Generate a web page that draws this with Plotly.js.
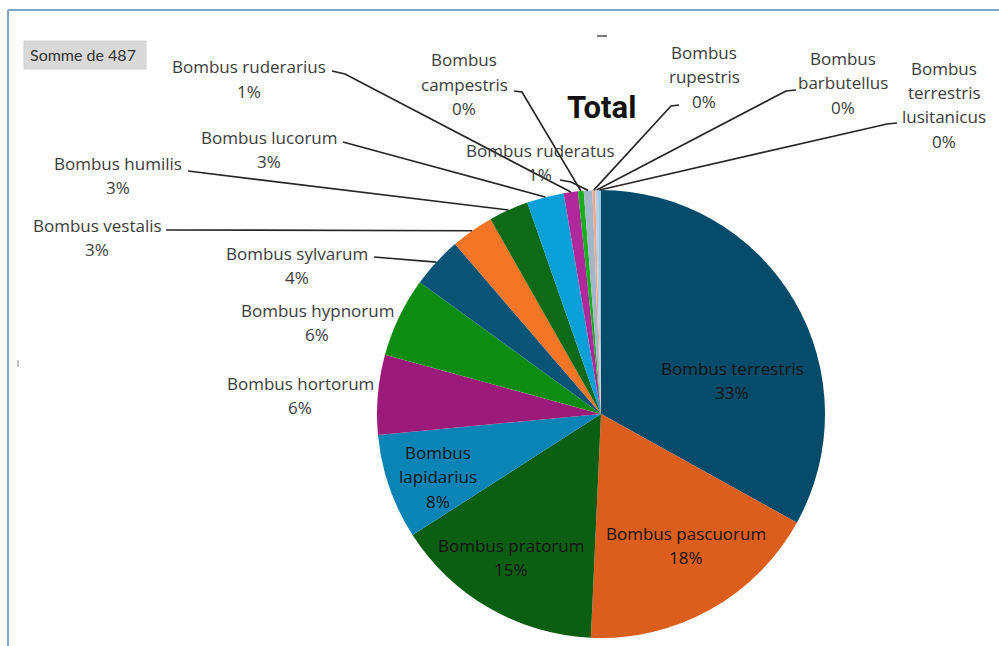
<!DOCTYPE html>
<html>
<head>
<meta charset="utf-8">
<script src="https://cdn.plot.ly/plotly-3.0.1.min.js"></script>
<style>html,body{margin:0;padding:0;background:#fff;}#chart{width:999px;height:646px;}</style>
</head>
<body>
<div id="chart"></div>
<script>
// ---- data ----
const categories = [
  "Bombus terrestris", "Bombus pascuorum", "Bombus pratorum", "Bombus lapidarius",
  "Bombus hortorum", "Bombus hypnorum", "Bombus sylvarum", "Bombus vestalis",
  "Bombus humilis", "Bombus lucorum", "Bombus ruderarius", "Bombus campestris",
  "Bombus ruderatus", "Bombus rupestris", "Bombus barbutellus", "Bombus terrestris lusitanicus"
];
const counts = [161, 86, 74, 37, 28, 28, 18, 15, 14, 13, 5, 2, 3, 1, 1, 1];
const sliceColors = [
  "#064B69", "#DC5E1D", "#0B5E12", "#0A84B5", "#9C1B7A", "#0E8C12",
  "#0A5478", "#F47526", "#0E6A17", "#0BA0D8", "#B0299C", "#1AAE1E",
  "#A2B6C9", "#F2A88C", "#B9CFE0", "#93C6E2"
];
const chartTitle = "Total";
const fieldButton = "Somme de 487";

// ---- layout (pixel positions of label blocks) ----
const W = 999, H = 646;
const CX = 601, CY = 414, R = 224;
const labelLayout = [
  {x: 732, y: 368, split: false, inside: true},
  {x: 686, y: 533, split: false, inside: true},
  {x: 511, y: 545, split: false, inside: true},
  {x: 438, y: 452, split: true,  inside: true},
  {x: 300, y: 383, split: false},
  {x: 317, y: 310, split: false},
  {x: 297, y: 253, split: false, lead: [374, 257]},
  {x: 97,  y: 225, split: false, lead: [166, 230]},
  {x: 118, y: 163, split: false, lead: [188, 171]},
  {x: 269, y: 137, split: false, lead: [343, 142]},
  {x: 249, y: 67,  split: false, lead: [332, 71], knee: [345, 74]},
  {x: 464, y: 60,  split: true,  lead: [514, 91], knee: [522, 92]},
  {x: 540, y: 150, split: false, lead: [560, 180], knee: [571, 182]},
  {x: 704, y: 52,  split: true,  lead: [679, 105], knee: [671, 106]},
  {x: 843, y: 58,  split: true,  lead: [796, 90], knee: [786, 91]},
  {x: 944, y: 68,  split: true,  lead: [897, 123], knee: [887, 124]}
];
const LINE_DY = 24.5;
const LABEL_FONT = "'Open Sans', Lato, sans-serif";

const px = v => v / W;
const py = v => 1 - v / H;

const total = counts.reduce((a, b) => a + b, 0);
const annotations = [];
const shapes = [];

let cum = 0;
counts.forEach((c, i) => {
  const mid = (cum + c / 2) / total * 2 * Math.PI;
  cum += c;
  const L = labelLayout[i];
  const pct = Math.round(c / total * 100) + "%";
  const nameLines = L.split ? categories[i].split(" ") : [categories[i]];
  const lines = nameLines.concat([pct]);
  lines.forEach((t, k) => {
    annotations.push({
      xref: "paper", yref: "paper",
      x: px(L.x), y: py(L.y + k * LINE_DY),
      xanchor: "center", yanchor: "middle",
      text: t, showarrow: false,
      font: {family: LABEL_FONT, size: 17, weight: 500, color: L.inside ? "#141414" : "#3C3C3C"}
    });
  });
  if (L.lead) {
    const ex = CX + R * Math.sin(mid);
    const ey = CY - R * Math.cos(mid);
    let p = "M " + px(L.lead[0]) + "," + py(L.lead[1]);
    if (L.knee) p += " L " + px(L.knee[0]) + "," + py(L.knee[1]);
    p += " L " + px(ex) + "," + py(ey);
    shapes.push({type: "path", xref: "paper", yref: "paper", path: p,
      line: {color: "#262626", width: 1.7}});
  }
});

// frame
shapes.push({type: "line", xref: "paper", yref: "paper", x0: px(8), x1: px(1000), y0: py(10), y1: py(10), line: {color: "#7FA8C4", width: 2}});
shapes.push({type: "line", xref: "paper", yref: "paper", x0: px(8), x1: px(8), y0: py(10), y1: py(650), line: {color: "#7FA8C4", width: 2}});
// field button
shapes.push({type: "rect", xref: "paper", yref: "paper", x0: px(24), x1: px(146), y0: py(41), y1: py(69), fillcolor: "#D9D9D9", line: {color: "#CFCFCF", width: 1}});
// small artifacts
shapes.push({type: "line", xref: "paper", yref: "paper", x0: px(597), x1: px(607), y0: py(36), y1: py(36), line: {color: "#555", width: 1.5}});
shapes.push({type: "line", xref: "paper", yref: "paper", x0: px(18), x1: px(18), y0: py(360), y1: py(367), line: {color: "#888", width: 1}});

annotations.push({xref: "paper", yref: "paper", x: px(83), y: py(55), xanchor: "center", yanchor: "middle",
  text: fieldButton, showarrow: false, font: {family: "Lato, sans-serif", size: 16, color: "#333"}});
annotations.push({xref: "paper", yref: "paper", x: px(601), y: py(107), xanchor: "center", yanchor: "middle",
  text: "<b>" + chartTitle + "</b>", showarrow: false, font: {family: "Roboto, sans-serif", size: 31, color: "#111"}});

const trace = {
  type: "pie",
  labels: categories,
  values: counts,
  sort: false,
  direction: "clockwise",
  rotation: 0,
  textinfo: "none",
  hoverinfo: "label+percent",
  marker: {colors: sliceColors, line: {width: 0}},
  domain: {x: [px(CX - R), px(CX + R)], y: [py(CY + R), py(CY - R)]},
  showlegend: false
};

Plotly.newPlot("chart", [trace], {
  width: W, height: H,
  margin: {l: 0, r: 0, t: 0, b: 0},
  paper_bgcolor: "#fff",
  showlegend: false,
  annotations: annotations,
  shapes: shapes
}, {staticPlot: true});
</script>
</body>
</html>
